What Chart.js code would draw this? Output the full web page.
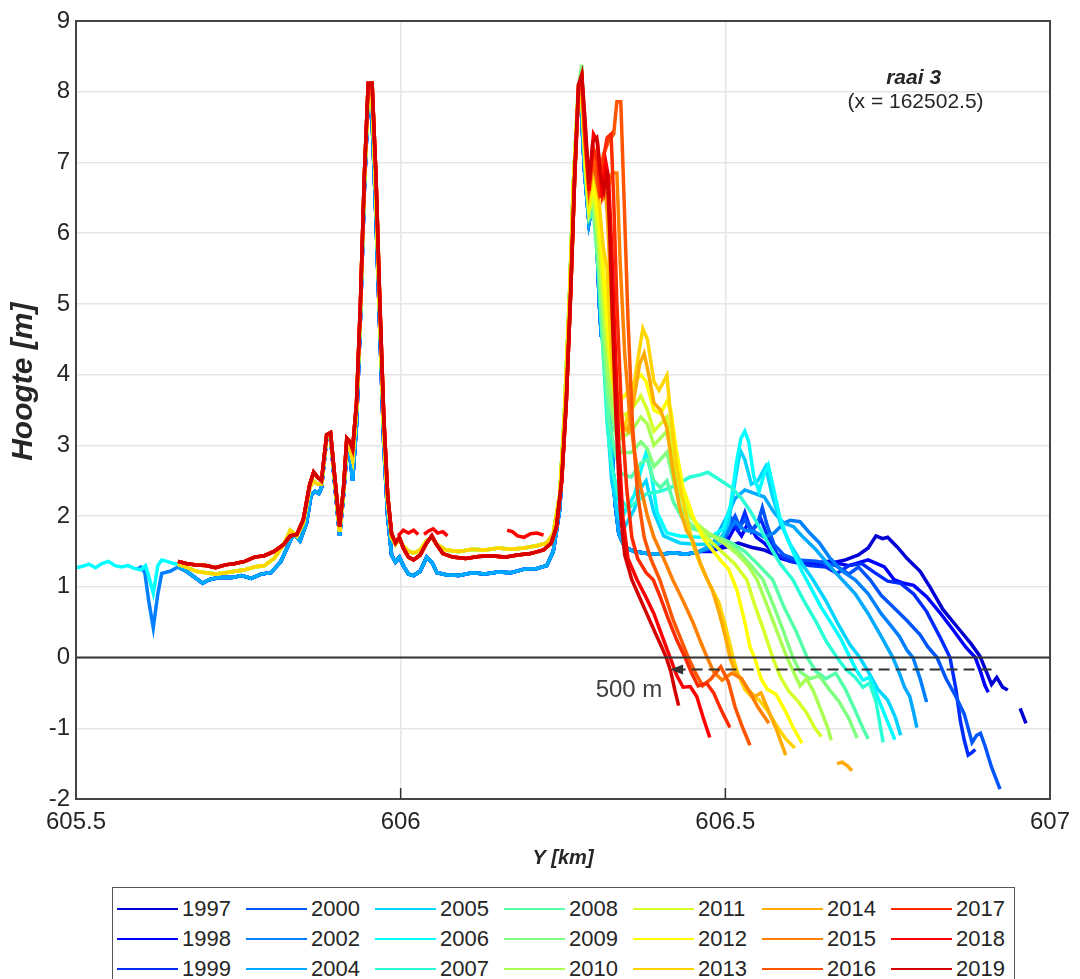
<!DOCTYPE html>
<html lang="nl">
<head>
  <meta charset="UTF-8">
  <title>raai 3 - hoogteprofielen</title>
  <script src="https://cdn.jsdelivr.net/npm/chart.js"></script>
  <style>
    body { margin: 0; background: #fff; font-family: "Liberation Sans", Arial, sans-serif; }
    #wrap { position: relative; width: 1080px; height: 979px; overflow: hidden; }
    #plot { position: absolute; left: 0; top: 0; width: 1080px; height: 880px; }
    #legend {
      position: absolute; left: 112px; top: 887px; width: 903px; height: 110px;
      border: 1.5px solid #555; box-sizing: border-box; padding: 6px 0 0 4px;
      display: grid; grid-auto-flow: column;
      grid-template-rows: repeat(3, 30px); grid-template-columns: repeat(7, 129px);
    }
    .item { display: flex; align-items: center; font-size: 22px; color: #262626; height: 30px; }
    .item span.sw { display: inline-block; width: 61px; height: 2px; margin-right: 4px; }
  </style>
</head>
<body>
<div id="wrap">
  <div id="plot"><canvas id="profiel"></canvas></div>
  <div id="legend"></div>
</div>
<script>
  // jaren en kleuren (jet colormap)
  const years = [1997, 1998, 1999, 2000, 2002, 2004, 2005, 2006, 2007, 2008, 2009,
                 2010, 2011, 2012, 2013, 2014, 2015, 2016, 2017, 2018, 2019];
  const colors = ['#0000d5', '#0000ff', '#002bff', '#0055ff', '#0080ff', '#00aaff', '#00d5ff',
                  '#00ffff', '#2bffd5', '#55ffaa', '#80ff80', '#aaff55', '#d5ff2b', '#ffff00',
                  '#ffd500', '#ffaa00', '#ff8000', '#ff5500', '#ff2b00', '#ff0000', '#d50000'];

  // [Y km, hoogte m]; null = onderbreking
  const frontLow = [[605.657,1.28],[605.67,1.22],[605.685,1.12],[605.695,1.05],[605.705,1.1],[605.72,1.13],[605.74,1.13],[605.755,1.16],[605.77,1.12],[605.785,1.18],[605.8,1.2],[605.815,1.35],[605.825,1.55],[605.835,1.75],[605.845,1.65],[605.855,1.9],[605.862,2.3],[605.868,2.35],[605.874,2.32],[605.878,2.4],[605.886,3.1],[605.892,3.12],[605.898,2.5],[605.906,1.72],[605.912,2.3],[605.917,2.9],[605.922,2.85],[605.926,2.5],[605.932,3.3],[605.938,4.8],[605.944,6.6],[605.95,7.9],[605.956,7.6],[605.962,6.2],[605.968,4.6],[605.974,3.0],[605.98,2.0],[605.986,1.45],[605.992,1.35],[605.998,1.42],[606.004,1.3],[606.012,1.18],[606.02,1.16],[606.03,1.22],[606.04,1.42],[606.048,1.35],[606.056,1.2],[606.07,1.17],[606.09,1.16],[606.11,1.2],[606.13,1.18],[606.15,1.21],[606.17,1.2],[606.19,1.25],[606.21,1.26],[606.225,1.3],[606.235,1.5],[606.245,2.1],[606.252,3.2],[606.26,5.0],[606.266,6.6]];
  const frontMid = [[605.657,1.32],[605.67,1.28],[605.685,1.22],[605.7,1.2],[605.715,1.18],[605.73,1.2],[605.745,1.22],[605.76,1.24],[605.775,1.28],[605.79,1.3],[605.805,1.4],[605.82,1.6],[605.83,1.8],[605.84,1.72],[605.85,1.9],[605.86,2.4],[605.866,2.5],[605.872,2.45],[605.878,2.45],[605.886,3.12],[605.892,3.15],[605.898,2.55],[605.906,1.78],[605.912,2.35],[605.917,3.0],[605.922,2.95],[605.926,2.8],[605.932,3.5],[605.938,4.9],[605.944,6.7],[605.95,8.0],[605.956,7.9],[605.962,6.5],[605.968,4.8],[605.974,3.2],[605.98,2.2],[605.986,1.7],[605.992,1.6],[605.998,1.68],[606.004,1.58],[606.012,1.5],[606.02,1.48],[606.03,1.52],[606.04,1.65],[606.048,1.7],[606.056,1.6],[606.07,1.52],[606.09,1.5],[606.11,1.53],[606.13,1.52],[606.15,1.55],[606.17,1.53],[606.19,1.55],[606.21,1.58],[606.225,1.62],[606.235,1.75],[606.245,2.3],[606.252,3.4],[606.26,5.1],[606.266,6.7]];
  const frontHigh = [[605.657,1.36],[605.67,1.33],[605.685,1.31],[605.7,1.3],[605.715,1.27],[605.73,1.31],[605.745,1.33],[605.76,1.36],[605.775,1.42],[605.79,1.44],[605.805,1.5],[605.82,1.6],[605.83,1.72],[605.84,1.74],[605.85,1.95],[605.86,2.45],[605.866,2.62],[605.872,2.55],[605.878,2.5],[605.886,3.15],[605.892,3.18],[605.898,2.6],[605.906,1.85],[605.912,2.4],[605.917,3.1],[605.922,3.05],[605.926,2.95],[605.932,3.6],[605.938,5.0],[605.944,6.8],[605.95,8.12],[605.956,8.12],[605.962,6.8],[605.968,5.0],[605.974,3.4],[605.98,2.3],[605.986,1.75],[605.992,1.62],[605.998,1.7],[606.004,1.55],[606.012,1.42],[606.02,1.38],[606.03,1.45],[606.04,1.62],[606.048,1.72],[606.055,1.6],[606.065,1.47],[606.08,1.42],[606.1,1.4],[606.12,1.43],[606.14,1.44],[606.16,1.42],[606.18,1.45],[606.2,1.47],[606.22,1.52],[606.232,1.62],[606.24,1.85],[606.248,2.5],[606.255,3.6],[606.262,5.2],[606.268,6.8]];
  const crestLow = [[606.272,7.7],[606.277,7.95],[606.283,6.9],[606.29,6.15],[606.297,6.5],[606.302,5.9],[606.306,5.0],[606.309,4.55],[606.314,4.45],[606.318,4.6],[606.321,3.9],[606.325,3.0],[606.33,2.2],[606.336,1.75],[606.345,1.56],[606.36,1.5],[606.38,1.47],[606.4,1.46],[606.42,1.48],[606.44,1.46],[606.46,1.5]];

  const lead2002 = [[605.594,1.25],[605.6,1.28],[605.606,1.2],[605.612,0.8],[605.619,0.42],[605.626,0.9],[605.632,1.19],[605.645,1.22]];
  const lead2006 = [[605.5,1.27],[605.51,1.29],[605.52,1.32],[605.53,1.27],[605.54,1.33],[605.55,1.36],[605.56,1.3],[605.57,1.28],[605.58,1.3],[605.59,1.26],[605.6,1.24],[605.607,1.3],[605.612,1.15],[605.619,0.91],[605.626,1.3],[605.632,1.38],[605.64,1.36],[605.65,1.33]];

  const tail1997 = [[606.48,1.52],[606.5,1.56],[606.52,1.62],[606.54,1.56],[606.56,1.52],[606.58,1.44],[606.6,1.38],[606.63,1.33],[606.66,1.33],[606.685,1.38],[606.705,1.45],[606.72,1.55],[606.732,1.72],[606.742,1.68],[606.75,1.7],[606.765,1.56],[606.78,1.4],[606.8,1.22],[606.815,1.0],[606.835,0.68],[606.86,0.4],[606.878,0.2],[606.892,0.02],[606.902,-0.2],[606.91,-0.38],[606.918,-0.28],[606.927,-0.42],[606.935,-0.46],null,[606.954,-0.72],[606.963,-0.93]];
  const tail1998 = [[606.48,1.5],[606.5,1.6],[606.515,1.85],[606.525,1.72],[606.535,1.9],[606.548,1.7],[606.56,1.62],[606.58,1.42],[606.6,1.36],[606.63,1.33],[606.66,1.36],[606.69,1.3],[606.72,1.38],[606.745,1.28],[606.76,1.1],[606.775,1.05],[606.79,1.02],[606.81,0.86],[606.83,0.64],[606.85,0.4],[606.87,0.15],[606.885,0.0],[606.893,-0.2],[606.9,-0.4],[606.905,-0.49]];
  const tail1999 = [[606.48,1.55],[606.5,1.68],[606.51,1.95],[606.52,1.8],[606.53,2.05],[606.54,1.78],[606.555,1.95],[606.565,1.72],[606.58,1.46],[606.6,1.36],[606.63,1.3],[606.655,1.28],[606.672,1.19],[606.69,1.3],[606.71,1.33],[606.73,1.2],[606.75,1.08],[606.77,1.05],[606.79,0.9],[606.81,0.65],[606.83,0.3],[606.846,0.0],[606.855,-0.44],[606.862,-0.9],[606.868,-1.17],[606.874,-1.38],[606.88,-1.34],[606.885,-1.3]];
  const tail2000 = [[606.48,1.6],[606.5,1.75],[606.515,2.0],[606.522,1.85],[606.53,1.95],[606.54,1.8],[606.55,1.9],[606.557,2.12],[606.565,1.85],[606.575,1.6],[606.59,1.45],[606.61,1.38],[606.64,1.36],[606.67,1.3],[606.69,1.18],[606.705,1.28],[606.723,1.1],[606.74,0.88],[606.76,0.7],[606.78,0.52],[606.8,0.32],[606.812,0.15],[606.826,0.0],[606.84,-0.3],[606.855,-0.55],[606.868,-0.8],[606.88,-1.2],[606.887,-1.1],[606.893,-1.07],[606.9,-1.25],[606.91,-1.55],[606.923,-1.86]];
  const tail2002 = [[606.48,1.55],[606.5,1.72],[606.515,1.92],[606.53,1.8],[606.545,1.78],[606.56,1.7],[606.575,1.76],[606.59,1.9],[606.6,1.94],[606.615,1.92],[606.63,1.76],[606.645,1.62],[606.66,1.42],[606.68,1.22],[606.7,1.1],[606.72,0.9],[606.74,0.62],[606.755,0.45],[606.768,0.3],[606.78,0.1],[606.789,0.0],[606.8,-0.3],[606.81,-0.63]];
  const tail2004 = [[606.48,1.6],[606.5,1.95],[606.515,2.25],[606.53,2.37],[606.545,2.32],[606.56,2.27],[606.575,2.05],[606.59,1.9],[606.605,1.85],[606.62,1.7],[606.64,1.52],[606.66,1.3],[606.68,1.1],[606.7,0.9],[606.72,0.62],[606.74,0.3],[606.758,0.0],[606.768,-0.22],[606.776,-0.42],[606.784,-0.55],[606.79,-0.78],[606.795,-0.99]];
  const tail2005 = [[606.273,7.9],[606.278,8.1],[606.284,7.0],[606.29,6.3],[606.297,6.6],[606.302,6.0],[606.308,5.0],[606.314,4.2],[606.318,3.4],[606.325,2.5],[606.335,2.0],[606.345,1.85],[606.36,2.1],[606.37,2.4],[606.378,2.5],[606.39,2.05],[606.405,1.72],[606.43,1.62],[606.46,1.6],[606.49,1.62],[606.505,1.9],[606.515,2.5],[606.523,2.93],[606.53,2.8],[606.54,2.45],[606.55,2.5],[606.562,2.7],[606.572,2.3],[606.585,1.9],[606.6,1.6],[606.62,1.3],[606.635,1.1],[606.655,0.8],[606.675,0.45],[606.692,0.18],[606.707,0.0],[606.72,-0.2],[606.735,-0.45],[606.75,-0.6],[606.762,-0.85],[606.77,-1.1]];
  const tail2006 = [[606.273,7.9],[606.278,8.1],[606.284,7.1],[606.29,6.35],[606.297,6.7],[606.302,6.2],[606.31,5.0],[606.318,3.6],[606.325,2.7],[606.335,2.25],[606.345,2.05],[606.36,2.3],[606.37,2.65],[606.378,2.9],[606.386,2.6],[606.395,2.05],[606.41,1.76],[606.43,1.72],[606.46,1.7],[606.48,1.72],[606.497,1.82],[606.508,2.15],[606.517,2.75],[606.524,3.1],[606.53,3.2],[606.536,3.05],[606.544,2.55],[606.552,2.35],[606.56,2.6],[606.566,2.72],[606.574,2.4],[606.584,1.98],[606.594,1.72],[606.604,1.5],[606.618,1.22],[606.632,0.98],[606.647,0.72],[606.662,0.5],[606.677,0.28],[606.692,0.0],[606.702,-0.18],[606.712,-0.32],[606.722,-0.28],[606.732,-0.5],[606.746,-0.82],[606.761,-1.16]];
  const tail2007 = [[606.273,7.9],[606.278,8.1],[606.284,7.0],[606.29,6.3],[606.297,6.6],[606.302,6.0],[606.31,4.6],[606.318,3.3],[606.325,2.7],[606.335,2.3],[606.35,2.1],[606.365,2.22],[606.38,2.32],[606.4,2.35],[606.42,2.42],[606.445,2.55],[606.46,2.58],[606.473,2.62],[606.49,2.52],[606.51,2.4],[606.525,2.25],[606.54,2.05],[606.555,1.8],[606.57,1.55],[606.585,1.32],[606.604,1.1],[606.62,0.82],[606.64,0.5],[606.656,0.22],[606.672,0.0],[606.685,-0.16],[606.7,-0.28],[606.712,-0.42],[606.722,-0.36],[606.732,-0.62],[606.743,-1.2]];
  const tail2008 = [[606.273,7.9],[606.278,8.1],[606.284,6.9],[606.29,6.2],[606.297,6.3],[606.305,5.4],[606.312,4.3],[606.32,3.4],[606.33,2.9],[606.34,2.6],[606.355,2.55],[606.37,2.75],[606.38,2.8],[606.39,2.5],[606.4,2.4],[606.41,2.5],[606.42,2.2],[606.435,1.95],[606.45,1.82],[606.47,1.76],[606.49,1.7],[606.51,1.62],[606.53,1.5],[606.55,1.32],[606.573,1.1],[606.59,0.72],[606.61,0.35],[606.626,0.0],[606.64,-0.2],[606.655,-0.3],[606.67,-0.22],[606.685,-0.45],[606.7,-0.75],[606.712,-1.0],[606.72,-1.15]];
  const tail2009 = [[606.273,8.0],[606.279,8.38],[606.284,7.0],[606.29,6.3],[606.297,6.4],[606.305,5.6],[606.312,4.6],[606.32,3.7],[606.33,3.2],[606.34,2.9],[606.355,2.9],[606.37,3.05],[606.38,2.95],[606.39,2.7],[606.4,2.8],[606.41,2.9],[606.42,2.5],[606.43,2.15],[606.445,1.9],[606.46,1.8],[606.48,1.72],[606.5,1.65],[606.52,1.5],[606.54,1.3],[606.558,1.1],[606.575,0.72],[606.59,0.36],[606.604,0.0],[606.615,-0.2],[606.63,-0.3],[606.645,-0.26],[606.66,-0.45],[606.675,-0.62],[606.69,-0.86],[606.703,-1.14]];
  const tail2010 = [[606.273,7.9],[606.278,8.1],[606.284,7.0],[606.29,6.3],[606.297,6.5],[606.305,5.8],[606.312,4.9],[606.32,4.0],[606.33,3.4],[606.34,3.1],[606.355,3.2],[606.37,3.4],[606.38,3.3],[606.39,3.0],[606.4,3.1],[606.41,3.2],[606.42,2.7],[606.43,2.3],[606.445,2.0],[606.46,1.86],[606.48,1.72],[606.5,1.6],[606.52,1.45],[606.535,1.3],[606.549,1.1],[606.565,0.72],[606.58,0.36],[606.595,0.0],[606.605,-0.2],[606.615,-0.4],[606.625,-0.3],[606.635,-0.46],[606.648,-0.76],[606.658,-1.0],[606.663,-1.17]];
  const tail2011 = [[606.273,7.9],[606.278,8.1],[606.284,7.0],[606.29,6.3],[606.297,6.6],[606.305,6.0],[606.312,5.2],[606.32,4.3],[606.33,3.7],[606.34,3.4],[606.355,3.5],[606.37,3.7],[606.38,3.5],[606.39,3.2],[606.4,3.3],[606.41,3.4],[606.42,2.9],[606.43,2.4],[606.445,2.05],[606.46,1.82],[606.48,1.62],[606.5,1.45],[606.515,1.32],[606.533,1.1],[606.545,0.75],[606.56,0.36],[606.573,0.0],[606.585,-0.28],[606.598,-0.48],[606.612,-0.62],[606.625,-0.78],[606.638,-1.0],[606.648,-1.12]];
  const tail2012 = [[606.273,7.9],[606.278,8.1],[606.284,7.1],[606.29,6.4],[606.297,6.7],[606.305,6.2],[606.312,5.5],[606.318,4.8],[606.325,4.0],[606.333,3.6],[606.345,3.7],[606.36,3.9],[606.37,4.0],[606.378,3.9],[606.39,3.5],[606.4,3.45],[606.41,3.62],[606.416,3.5],[606.425,2.9],[606.435,2.4],[606.45,2.0],[606.465,1.7],[606.48,1.52],[606.495,1.35],[606.505,1.25],[606.518,0.95],[606.53,0.5],[606.538,0.15],[606.545,0.0],[606.555,-0.3],[606.565,-0.45],[606.578,-0.52],[606.592,-0.75],[606.605,-1.0],[606.618,-1.21]];
  const tail2013 = [[606.273,7.9],[606.278,8.1],[606.284,7.2],[606.29,6.5],[606.297,6.9],[606.305,6.5],[606.312,5.8],[606.318,5.5],[606.325,4.2],[606.333,3.3],[606.343,3.2],[606.355,3.6],[606.365,4.2],[606.373,4.65],[606.38,4.5],[606.39,3.9],[606.398,3.78],[606.405,3.9],[606.41,3.99],[606.416,3.4],[606.425,2.7],[606.435,2.2],[606.45,1.6],[606.462,1.3],[606.475,1.05],[606.49,0.78],[606.5,0.45],[606.512,0.0],[606.52,-0.25],[606.53,-0.45],[606.54,-0.55],[606.552,-0.6],[606.565,-0.75],[606.58,-0.98],[606.593,-1.15],[606.607,-1.28]];
  const tail2014 = [[606.274,8.1],[606.279,8.2],[606.284,7.3],[606.29,6.6],[606.297,7.0],[606.305,6.6],[606.312,6.9],[606.318,6.3],[606.325,5.0],[606.333,3.8],[606.34,3.3],[606.35,3.2],[606.36,3.7],[606.368,4.15],[606.375,4.3],[606.382,4.0],[606.39,3.6],[606.4,3.5],[606.41,3.25],[606.42,2.6],[606.43,2.1],[606.44,1.8],[606.45,1.65],[606.461,1.35],[606.47,1.15],[606.48,0.95],[606.49,0.65],[606.5,0.3],[606.507,0.0],[606.515,-0.2],[606.525,-0.3],[606.535,-0.45],[606.545,-0.55],[606.555,-0.5],[606.565,-0.72],[606.578,-1.0],[606.593,-1.38],null,[606.672,-1.5],[606.68,-1.48],[606.688,-1.53],[606.695,-1.6]];
  const tail2015 = [[606.274,8.1],[606.279,8.2],[606.284,7.3],[606.29,6.6],[606.297,7.0],[606.305,6.8],[606.312,6.5],[606.318,6.6],[606.326,6.85],[606.333,6.85],[606.338,5.6],[606.345,4.3],[606.352,3.5],[606.36,2.9],[606.37,2.4],[606.38,2.0],[606.39,1.7],[606.405,1.4],[606.419,1.1],[606.435,0.8],[606.45,0.5],[606.462,0.22],[606.472,0.0],[606.482,-0.2],[606.495,-0.32],[606.51,-0.22],[606.525,-0.3],[606.537,-0.48],[606.55,-0.7],[606.567,-0.93]];
  const tail2016 = [[606.274,8.0],[606.279,8.1],[606.284,7.3],[606.29,6.7],[606.297,7.0],[606.305,6.6],[606.312,7.1],[606.32,7.3],[606.328,7.4],[606.333,7.86],[606.339,7.86],[606.344,6.5],[606.35,4.8],[606.357,3.3],[606.365,2.3],[606.375,1.7],[606.385,1.4],[606.399,1.1],[606.41,0.8],[606.42,0.52],[606.432,0.25],[606.443,0.0],[606.453,-0.2],[606.465,-0.4],[606.478,-0.3],[606.493,-0.13],[606.505,-0.35],[606.515,-0.7],[606.527,-1.0],[606.538,-1.24]];
  const tail2017 = [[606.274,8.1],[606.279,8.2],[606.284,7.4],[606.29,6.7],[606.297,7.2],[606.303,7.0],[606.308,6.5],[606.313,7.1],[606.318,7.35],[606.324,7.4],[606.328,6.5],[606.333,5.0],[606.34,3.5],[606.348,2.4],[606.356,1.7],[606.365,1.4],[606.378,1.2],[606.389,1.1],[606.4,0.85],[606.412,0.55],[606.425,0.25],[606.438,0.0],[606.448,-0.22],[606.458,-0.4],[606.471,-0.36],[606.482,-0.5],[606.494,-0.75],[606.507,-0.99]];
  const tail2018 = [[606.274,8.1],[606.279,8.2],[606.284,7.5],[606.29,6.6],[606.297,7.4],[606.303,7.3],[606.31,6.6],[606.316,7.0],[606.32,6.8],[606.325,5.8],[606.33,4.5],[606.336,3.0],[606.342,2.0],[606.35,1.4],[606.364,1.1],[606.378,0.85],[606.39,0.62],[606.402,0.32],[606.415,0.0],[606.425,-0.25],[606.435,-0.42],[606.446,-0.41],[606.456,-0.55],[606.466,-0.85],[606.476,-1.13],
                    null,[605.996,1.72],[606.004,1.8],[606.012,1.76],[606.02,1.8],[606.027,1.74],
                    null,[606.036,1.74],[606.043,1.79],[606.05,1.82],[606.057,1.76],[606.065,1.78],[606.072,1.72],
                    null,[606.164,1.8],[606.172,1.78],[606.18,1.72],[606.19,1.7],[606.2,1.75],[606.21,1.76],[606.22,1.73]];
  const tail2019 = [[606.274,8.1],[606.279,8.25],[606.284,7.6],[606.29,6.7],[606.296,7.3],[606.302,7.35],[606.308,6.8],[606.313,6.6],[606.318,6.9],[606.322,6.0],[606.326,4.8],[606.332,3.3],[606.338,2.1],[606.345,1.45],[606.356,1.1],[606.368,0.85],[606.38,0.6],[606.392,0.35],[606.402,0.15],[606.409,0.0],[606.416,-0.2],[606.422,-0.45],[606.428,-0.68]];

  const profiles = [
    [...frontLow, ...crestLow, ...tail1997],
    [...frontLow, ...crestLow, ...tail1998],
    [...frontLow, ...crestLow, ...tail1999],
    [...frontLow, ...crestLow, ...tail2000],
    [...lead2002, ...frontLow, ...crestLow, ...tail2002],
    [...frontLow, ...crestLow, ...tail2004],
    [...frontMid, ...tail2005],
    [...lead2006, ...frontMid, ...tail2006],
    [...frontMid, ...tail2007],
    [...frontMid, ...tail2008],
    [...frontMid, ...tail2009],
    [...frontMid, ...tail2010],
    [...frontMid, ...tail2011],
    [...frontMid, ...tail2012],
    [...frontMid, ...tail2013],
    [...frontHigh, ...tail2014],
    [...frontHigh, ...tail2015],
    [...frontHigh, ...tail2016],
    [...frontHigh, ...tail2017],
    [...frontHigh, ...tail2018],
    [...frontHigh, ...tail2019]
  ];

  // annotaties
  const arrowFrom = 606.91, arrowTo = 606.415, arrowLevel = -0.17;
  const raaiTitle = 'raai 3', raaiSub = '(x = 162502.5)';
  const raaiPos = [606.79, 8.19], raaiSubPos = [606.793, 7.85];
  const shiftLabel = '500 m', shiftPos = [606.403, -0.46];
  const yTitle = 'Hoogte [m]', yTitleMid = 3.9;

  function toPoints(pairs) {
    let lastX = 605.5;
    return pairs.map(p => {
      if (p === null) return { x: lastX, y: null };
      lastX = p[0];
      return { x: p[0], y: p[1] };
    });
  }

  const fontFam = '"Liberation Sans", Arial, sans-serif';

  const extras = {
    id: 'extras',
    afterDatasetsDraw(chart) {
      const { ctx, chartArea: a, scales: { x, y } } = chart;
      ctx.save();
      // nullijn
      const y0 = y.getPixelForValue(0);
      ctx.strokeStyle = '#333'; ctx.lineWidth = 2;
      ctx.beginPath(); ctx.moveTo(a.left, y0); ctx.lineTo(a.right, y0); ctx.stroke();
      // verschuiving pijl
      const ya = y.getPixelForValue(arrowLevel);
      const x1 = x.getPixelForValue(arrowFrom), x2 = x.getPixelForValue(arrowTo);
      ctx.setLineDash([11, 6]); ctx.lineWidth = 2;
      ctx.beginPath(); ctx.moveTo(x1, ya); ctx.lineTo(x2 + 10, ya); ctx.stroke();
      ctx.setLineDash([]);
      ctx.fillStyle = '#333';
      ctx.beginPath(); ctx.moveTo(x2, ya); ctx.lineTo(x2 + 13, ya - 5); ctx.lineTo(x2 + 13, ya + 5); ctx.closePath(); ctx.fill();
      // kader
      ctx.strokeStyle = '#444'; ctx.lineWidth = 2;
      ctx.strokeRect(a.left, a.top, a.right - a.left, a.bottom - a.top);
      // ticks binnen
      ctx.lineWidth = 1.5; ctx.strokeStyle = '#333';
      [606, 606.5].forEach(v => {
        const px = x.getPixelForValue(v);
        ctx.beginPath(); ctx.moveTo(px, a.bottom); ctx.lineTo(px, a.bottom - 11); ctx.stroke();
      });
      // teksten
      ctx.fillStyle = '#262626'; ctx.textAlign = 'center'; ctx.textBaseline = 'middle';
      ctx.font = 'italic bold 21px ' + fontFam;
      ctx.fillText(raaiTitle, x.getPixelForValue(raaiPos[0]), y.getPixelForValue(raaiPos[1]));
      ctx.font = '21px ' + fontFam;
      ctx.fillText(raaiSub, x.getPixelForValue(raaiSubPos[0]), y.getPixelForValue(raaiSubPos[1]));
      ctx.fillStyle = '#404040'; ctx.textAlign = 'right';
      ctx.font = '24px ' + fontFam;
      ctx.fillText(shiftLabel, x.getPixelForValue(shiftPos[0]), y.getPixelForValue(shiftPos[1]));
      // y-as titel
      ctx.save();
      ctx.translate(24, y.getPixelForValue(yTitleMid));
      ctx.rotate(-Math.PI / 2);
      ctx.textAlign = 'center';
      ctx.fillStyle = '#262626';
      ctx.font = 'italic bold 30px ' + fontFam;
      ctx.fillText(yTitle, 0, 0);
      ctx.restore();
      ctx.restore();
    }
  };

  const chart = new Chart(document.getElementById('profiel'), {
    type: 'line',
    data: {
      datasets: years.map((yr, i) => ({
        label: String(yr),
        data: toPoints(profiles[i]),
        borderColor: colors[i],
        backgroundColor: colors[i],
        borderWidth: 3.5,
        pointRadius: 0,
        tension: 0,
        fill: false,
        spanGaps: false,
        order: years.length - i
      }))
    },
    options: {
      responsive: true,
      maintainAspectRatio: false,
      animation: false,
      layout: { padding: { top: 21, right: 30, left: 0, bottom: 0 } },
      plugins: { legend: { display: false }, tooltip: { enabled: false } },
      scales: {
        x: {
          type: 'linear', min: 605.5, max: 607,
          ticks: { stepSize: 0.5, color: '#262626', font: { size: 24, family: fontFam }, padding: 9, maxRotation: 0,
                   callback: v => String(Number(v.toFixed(2))) },
          grid: { color: '#e6e6e6', lineWidth: 1.5, drawTicks: false },
          border: { display: false },
          title: { display: true, text: 'Y [km]', color: '#262626',
                   font: { size: 20, weight: 'bold', style: 'italic', family: fontFam },
                   padding: { top: 4, bottom: 10 } },
          afterFit(s) { s.height = 81; }
        },
        y: {
          min: -2, max: 9,
          ticks: { stepSize: 1, color: '#262626', font: { size: 24, family: fontFam }, padding: 6 },
          grid: { color: '#e6e6e6', lineWidth: 1.5, drawTicks: false },
          border: { display: false },
          afterFit(s) { s.width = 76; }
        }
      }
    },
    plugins: [extras]
  });

  // legenda (kolomsgewijs, zoals het origineel)
  const legend = document.getElementById('legend');
  years.forEach((yr, i) => {
    const d = document.createElement('div');
    d.className = 'item';
    d.innerHTML = '<span class="sw" style="background:' + colors[i] + '"></span>' + yr;
    legend.appendChild(d);
  });
</script>
</body>
</html>
